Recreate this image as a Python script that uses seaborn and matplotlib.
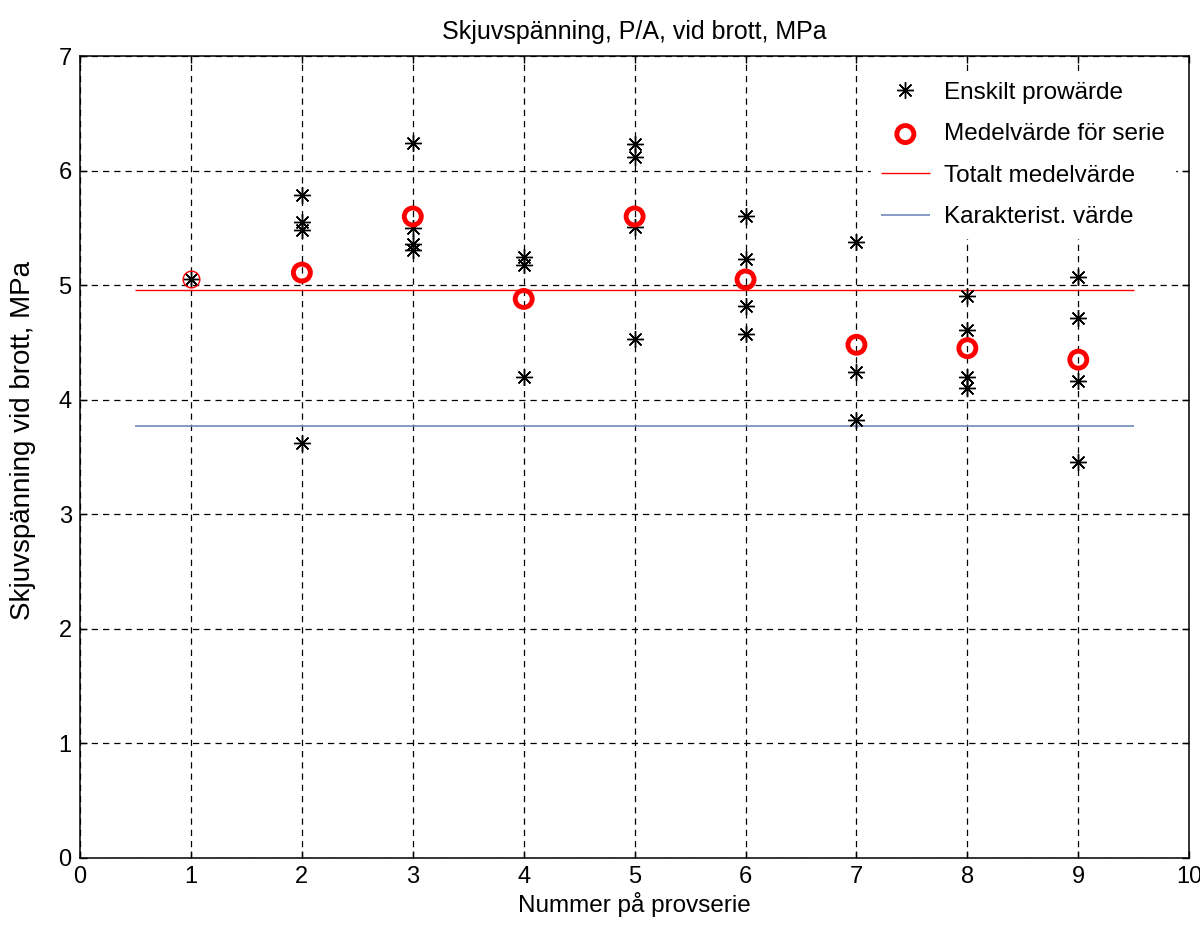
import matplotlib
matplotlib.use("Agg")
import matplotlib.pyplot as plt
import seaborn as sns
import pandas as pd

# Individual test values per series (MPa)
serie_1 = [5.05]
serie_2 = [5.79, 5.55, 5.48, 3.62]
serie_3 = [6.24, 5.50, 5.36, 5.31]
serie_4 = [5.25, 5.18, 4.20]
serie_5 = [6.23, 6.12, 5.51, 4.53]
serie_6 = [5.60, 5.23, 4.82, 4.57]
serie_7 = [5.38, 4.24, 3.82]
serie_8 = [4.91, 4.61, 4.20, 4.10]
serie_9 = [5.07, 4.71, 4.16, 3.46]

serie_nr = [1, 2, 3, 4, 5, 6, 7, 8, 9]
medel = [5.05, 5.11, 5.60, 4.88, 5.60, 5.05, 4.48, 4.45, 4.35]
totalt_medel = 4.96
karakt_varde = 3.77

labels = ["Enskilt prowärde", "Medelvärde för serie", "Totalt medelvärde", "Karakterist. värde"]

all_series = [serie_1, serie_2, serie_3, serie_4, serie_5, serie_6, serie_7, serie_8, serie_9]
rows = []
for nr, vals in zip(serie_nr, all_series):
    for v in vals:
        rows.append({"serie": nr, "varde": v})
df = pd.DataFrame(rows)
df_medel = pd.DataFrame({"serie": serie_nr, "medel": medel})

sns.set_style("white")
plt.rcParams["font.family"] = ["Liberation Sans", "DejaVu Sans"]
plt.rcParams["text.color"] = "black"
plt.rcParams["axes.labelcolor"] = "black"

fig = plt.figure(figsize=(12, 9.35), dpi=100)
ax = fig.add_axes([0.0667, 0.0824, 0.9243, 0.8576])

star = (8, 2, 0)
ax.plot(df["serie"], df["varde"], linestyle="none", marker=star, markersize=12,
        markeredgewidth=1.0, color="black", label=labels[0], zorder=3)

# first series mean drawn thin, the others bold
ax.plot(df_medel["serie"][:1], df_medel["medel"][:1], linestyle="none", marker="o",
        markersize=12, markerfacecolor="none", markeredgecolor="red",
        markeredgewidth=1.0, zorder=4)
sns.scatterplot(data=df_medel.iloc[1:], x="serie", y="medel", ax=ax, marker="o",
                s=150, facecolor="none", edgecolor="red", linewidth=3.5,
                label=labels[1], zorder=4)

ax.hlines(totalt_medel, 0.5, 9.5, color="red", linewidth=1.0, label=labels[2], zorder=2)
ax.hlines(karakt_varde, 0.5, 9.5, color="#6f8ab8", linewidth=1.2, label=labels[3], zorder=2)

ax.set_xlim(0, 10)
ax.set_ylim(0, 7)
ax.set_xticks(range(0, 11))
ax.set_yticks(range(0, 8))
ax.grid(True, color="black", linestyle=(0, (5, 4)), linewidth=0.9)
ax.tick_params(direction="in", length=5, width=1, labelsize=17, top=True, right=True,
               bottom=True, left=True, pad=6, colors="black")
for s in ax.spines.values():
    s.set_visible(True)
    s.set_color("black")
    s.set_linewidth(1.1)

ax.set_title("Skjuvspänning, P/A, vid brott, MPa", fontsize=18, pad=12, color="black")
ax.set_xlabel("Nummer på provserie", fontsize=17.5, labelpad=3)
ax.set_ylabel("Skjuvspänning vid brott, MPa", fontsize=20)
ax.yaxis.set_label_coords(-0.040, 0.52)

handles, labs = ax.get_legend_handles_labels()
order = [labs.index(l) for l in labels]
leg = ax.legend([handles[i] for i in order], labels, loc="upper right",
                bbox_to_anchor=(0.998, 0.995), fontsize=17.5, frameon=True,
                framealpha=1, edgecolor="white", facecolor="white",
                handlelength=2.0, handletextpad=0.6, labelspacing=0.8, borderpad=0.4)

fig.savefig("out.png", dpi=100)
